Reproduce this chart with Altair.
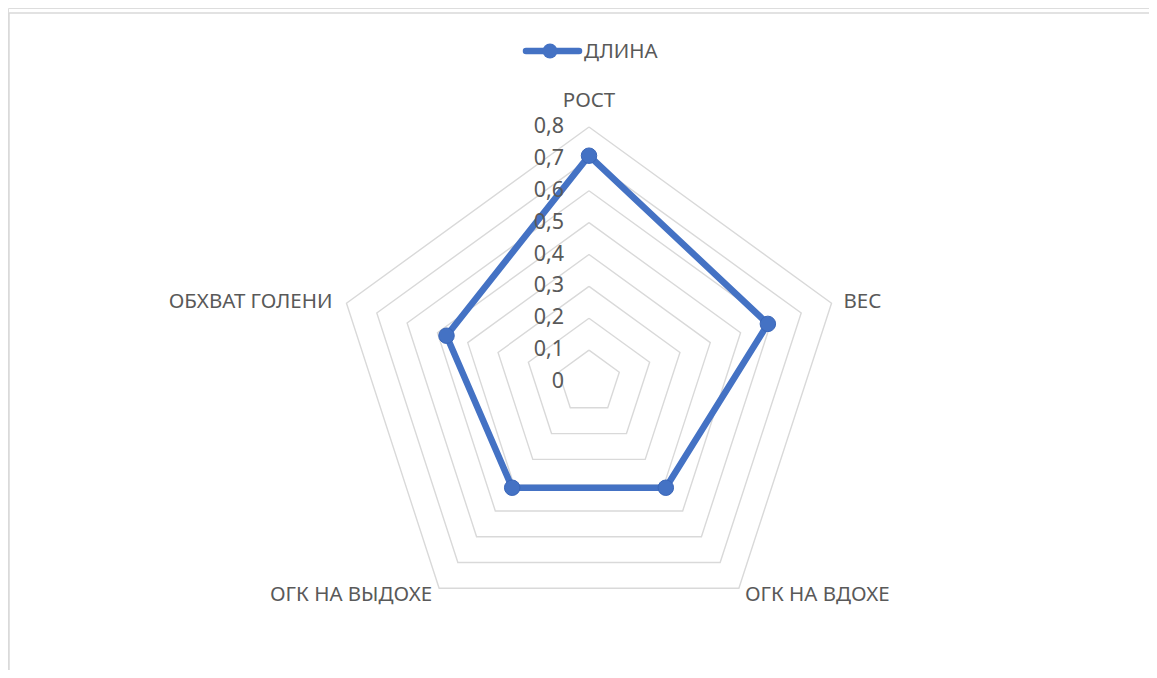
import altair as alt
import pandas as pd
import numpy as np

categories = ["РОСТ", "ВЕС", "ОГК НА ВДОХЕ", "ОГК НА ВЫДОХЕ", "ОБХВАТ ГОЛЕНИ"]
values = [0.71, 0.59, 0.41, 0.41, 0.47]
series_name = "ДЛИНА"
tick_values = [0, 0.1, 0.2, 0.3, 0.4, 0.5, 0.6, 0.7, 0.8]
tick_labels = ["0", "0,1", "0,2", "0,3", "0,4", "0,5", "0,6", "0,7", "0,8"]
grid_levels = [0.1, 0.2, 0.3, 0.4, 0.5, 0.6, 0.7, 0.8]
r_max = 0.8

FONT = "Noto Sans"
TXT = "#595959"
GRID = "#d9d9d9"
BLUE = "#4472C4"

n = len(categories)
ang = [2 * np.pi * i / n for i in range(n)]

# series polygon (closed)
rows = []
for k in range(n + 1):
    i = k % n
    rows.append({"cat": categories[i], "order": k, "v": values[i],
                 "x": values[i] * np.sin(ang[i]), "y": values[i] * np.cos(ang[i])})
series_df = pd.DataFrame(rows)
pts_df = series_df.iloc[:n]

# grid pentagons
g = []
for lv in grid_levels:
    for k in range(n + 1):
        i = k % n
        g.append({"level": lv, "order": k, "x": lv * np.sin(ang[i]), "y": lv * np.cos(ang[i])})
grid_df = pd.DataFrame(g)

ticks_df = pd.DataFrame({"v": tick_values, "label": tick_labels, "x": [0.0] * len(tick_values)})

lab_df = pd.DataFrame({"cat": categories,
                       "x": [r_max * np.sin(a) for a in ang],
                       "y": [r_max * np.cos(a) for a in ang]})

W, H = 1141, 662
unit = 318.75
cx, cy = 581, 374
xs = alt.Scale(domain=[-cx / unit, (W - cx) / unit], nice=False, zero=False)
ys = alt.Scale(domain=[-(H - cy) / unit, cy / unit], nice=False, zero=False)
X = alt.X("x:Q", scale=xs, axis=None)
Y = alt.Y("y:Q", scale=ys, axis=None)

grid = alt.Chart(grid_df).mark_line(color=GRID, strokeWidth=1.4).encode(
    x=X, y=Y, detail="level:N", order="order:Q")

line = alt.Chart(series_df).mark_line(color=BLUE, strokeWidth=6.5, strokeJoin="round").encode(
    x=X, y=Y, order="order:Q")
pts = alt.Chart(pts_df).mark_point(filled=True, color=BLUE, size=240, opacity=1,
                                   stroke="#3a66b8", strokeWidth=1).encode(
    x=X, y=Y, tooltip=["cat:N", "v:Q"])

ticks = alt.Chart(ticks_df).mark_text(align="right", baseline="middle", dx=-25,
                                      font=FONT, fontSize=21.5, color=TXT).encode(
    x=X, y=alt.Y("v:Q", scale=ys, axis=None), text="label:N")

def cat_text(idx, align, dx, dy, baseline="middle"):
    return alt.Chart(lab_df.iloc[idx]).mark_text(align=align, baseline=baseline, dx=dx, dy=dy,
                                                 font=FONT, fontSize=20.5, color=TXT).encode(
        x=X, y=Y, text="cat:N")

labs = [
    cat_text([0], "center", 0, -26),
    cat_text([1], "left", 12, -1),
    cat_text([2], "left", 6, 7),
    cat_text([3], "right", -7, 7),
    cat_text([4], "right", -14, -1),
]

# legend
leg_df = pd.DataFrame({"name": [series_name]})
leg_line = alt.Chart(leg_df).mark_rule(color=BLUE, strokeWidth=6.5, strokeCap="round").encode(
    x=alt.value(518), x2=alt.value(571), y=alt.value(43))
leg_pt = alt.Chart(leg_df).mark_point(filled=True, color=BLUE, size=220, opacity=1).encode(
    x=alt.value(542), y=alt.value(43))
leg_txt = alt.Chart(leg_df).mark_text(align="left", baseline="middle", font=FONT, fontSize=20.5,
                                      color=TXT).encode(
    x=alt.value(576), y=alt.value(44), text="name:N")

# frame (top and left edges)
frame_top = alt.Chart(leg_df).mark_rule(color=GRID, strokeWidth=1.5).encode(
    x=alt.value(1), x2=alt.value(W), y=alt.value(5))
frame_left = alt.Chart(leg_df).mark_rule(color=GRID, strokeWidth=1.5).encode(
    x=alt.value(1), y=alt.value(5), y2=alt.value(H))

chart = alt.layer(frame_top, frame_left, grid, line, pts, ticks, *labs,
                  leg_line, leg_pt, leg_txt).properties(
    width=W, height=H, padding=0, autosize=alt.AutoSizeParams(type="none")
).configure_view(stroke=None).configure(background="white")

chart.save("out.html", embed_options={"renderer": "svg", "actions": False})
